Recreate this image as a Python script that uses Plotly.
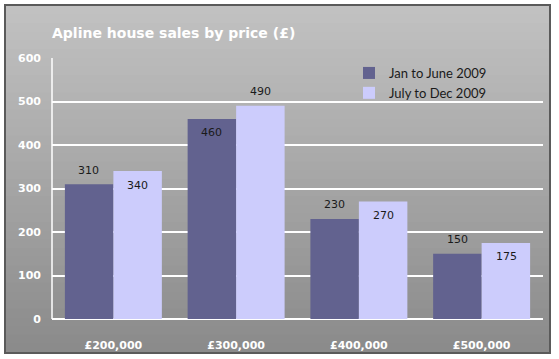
import plotly.graph_objects as go

categories = ["£200,000", "£300,000", "£400,000", "£500,000"]
series_names = ["Jan to June 2009", "July to Dec 2009"]
jan_june = [310, 460, 230, 150]
july_dec = [340, 490, 270, 175]
y_ticks = [0, 100, 200, 300, 400, 500, 600]

W, H = 559, 359
ML, MR, MT, MB = 52, 16, 58, 40
PW, PH = W - ML - MR, H - MT - MB

def px_x(p):
    return (p - ML) / PW

def px_y(p):
    return (H - MB - p) / PH

fig = go.Figure()
fig.add_trace(go.Bar(name=series_names[0], x=categories, y=jan_june,
                     marker=dict(color="#62628f", line=dict(width=0))))
fig.add_trace(go.Bar(name=series_names[1], x=categories, y=july_dec,
                     marker=dict(color="#ccccfc", line=dict(width=0))))

shapes = []
top, bot = 6, 352
n = 40
c0, c1 = 0xc2, 0x8a
for i in range(n):
    y0 = top + (bot - top) * i / n
    y1 = min(bot, top + (bot - top) * (i + 1) / n + 1.5)
    c = round(c0 + (c1 - c0) * (i + 0.5) / n)
    shapes.append(dict(type="rect", xref="paper", yref="paper", layer="below",
                       x0=px_x(6), x1=px_x(549), y0=px_y(y1), y1=px_y(y0),
                       fillcolor=f"rgb({c},{c},{c})", line=dict(width=0)))
shapes.append(dict(type="rect", xref="paper", yref="paper", layer="above",
                   x0=px_x(5), x1=px_x(550), y0=px_y(353), y1=px_y(5),
                   fillcolor="rgba(0,0,0,0)", line=dict(color="#5a5a5a", width=2)))
shapes.append(dict(type="line", xref="paper", yref="paper", layer="below",
                   x0=0, x1=0, y0=0, y1=1, line=dict(color="white", width=1.5)))

annotations = []
pos1 = ["out", "in", "out", "out"]
pos2 = ["in", "out", "in", "in"]
for vals, pos, xs in [(jan_june, pos1, -24.5), (july_dec, pos2, 24.5)]:
    for cat, v, p in zip(categories, vals, pos):
        annotations.append(dict(x=cat, y=v, xref="x", yref="y", text=str(v),
                                showarrow=False, xshift=xs,
                                yshift=14 if p == "out" else -14,
                                font=dict(family="DejaVu Sans", size=11, color="#1a1a1a")))

fig.update_layout(
    width=W, height=H, autosize=False,
    margin=dict(l=ML, r=MR, t=MT, b=MB),
    paper_bgcolor="white",
    plot_bgcolor="rgba(0,0,0,0)",
    barmode="group",
    bargap=0.21,
    bargroupgap=0,
    title=dict(text="<b>Apline house sales by price (£)</b>", x=52 / W,
               xanchor="left", y=1 - 33 / H, yanchor="middle", automargin=False,
               font=dict(family="DejaVu Sans", size=14, color="white")),
    legend=dict(x=px_x(349), y=px_y(58), xanchor="left", yanchor="top",
                bgcolor="rgba(0,0,0,0)", font=dict(family="Lato", size=13, color="#1a1a1a"),
                itemwidth=30, tracegroupgap=0),
    showlegend=True,
    shapes=shapes,
    annotations=annotations,
    xaxis=dict(showgrid=False, showline=False, ticks="", zeroline=False, automargin=False,
               tickfont=dict(family="DejaVu Sans", size=11, color="white", weight="bold"),
               ticklabelstandoff=18),
    yaxis=dict(range=[0, 600], tickvals=y_ticks, showgrid=True, gridcolor="white",
               gridwidth=1.5, zeroline=True, zerolinecolor="white", zerolinewidth=1.5,
               showline=False, ticks="", automargin=False,
               tickfont=dict(family="DejaVu Sans", size=11, color="white", weight="bold"),
               ticklabelstandoff=10),
)

fig.write_html("out.html",
               config={"displayModeBar": False, "responsive": False},
               post_script="document.body.style.margin='0';document.body.style.overflow='hidden';")
